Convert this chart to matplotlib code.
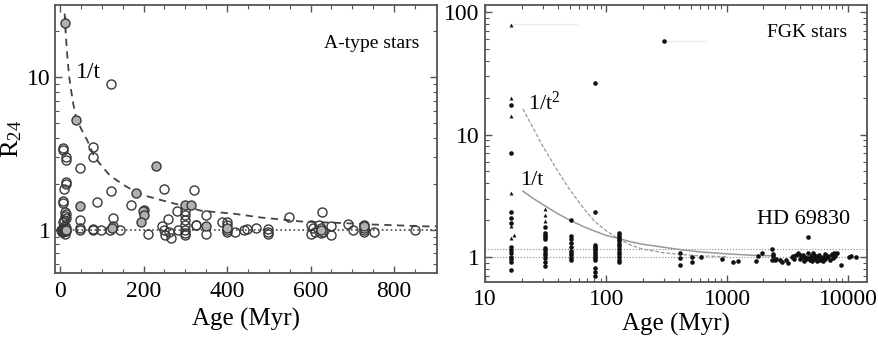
import matplotlib
matplotlib.use("Agg")
import matplotlib.pyplot as plt
from matplotlib.ticker import MultipleLocator, LogLocator, NullFormatter, FixedLocator, FixedFormatter

plt.rcParams['font.family'] = ['Liberation Serif', 'DejaVu Serif']
plt.rcParams['mathtext.fontset'] = 'custom'
plt.rcParams['mathtext.rm'] = 'Liberation Serif'
plt.rcParams['mathtext.it'] = 'Liberation Serif:italic'

# --- A-type stars: R24 excess vs age ---
a_open_age = [8, 8, 14, 14, 80, 80, 49, 14, 14, 10, 123, 123, 249, 320, 89, 169, 6, 7,
              200, 281, 350, 549, 627,
              13, 14, 12, 14, 8, 10, 5, 9, 13, 15, 7, 11, 4, 15, 12, 3, 6,
              49, 49, 49, 80, 78, 99, 119, 126, 128, 143, 211, 245, 249, 251, 262,
              265, 258, 283, 300, 300, 300, 300, 300, 300, 300, 325, 326, 350, 388,
              400, 400, 400, 400, 420, 440, 448, 470, 498, 498, 498, 600, 605, 610,
              600, 620, 625, 630, 625, 650, 650, 690, 701, 728, 728, 728, 728, 751, 851]
a_open_r24 = [3.4, 3.3, 3.0, 2.87, 3.5, 2.98, 2.53, 2.05, 1.99, 1.85, 9.0, 1.78, 1.85, 1.81,
              1.52, 1.46, 1.5, 1.55, 1.34, 1.33, 1.24, 1.21, 1.30,
              1.31, 1.27, 1.23, 1.19, 1.12, 1.15, 1.0, 1.0, 1.0, 1.03, 0.97, 0.94, 0.96,
              0.98, 1.06, 1.0, 1.02,
              1.16, 1.03, 0.99, 1.0, 1.01, 1.0, 1.0, 1.05, 1.19, 1.0, 0.94, 1.05, 0.99,
              0.92, 0.97, 0.88, 1.18, 1.0, 1.33, 1.24, 1.15, 1.07, 1.0, 0.95, 0.92, 1.08,
              1.07, 0.94, 1.13, 1.13, 1.07, 1.0, 0.97, 0.96, 1.0, 1.01, 1.03, 1.01, 0.97,
              0.94, 1.08, 1.02, 0.97, 0.93, 1.08, 1.02, 0.97, 0.95, 1.05, 0.92, 1.09, 1.0,
              1.08, 1.03, 0.99, 0.96, 0.97, 0.99]
a_fill_age = [12, 39, 231, 183, 49, 199, 201, 193, 300, 313, 350, 400, 625, 728, 125, 15]
a_fill_r24 = [22.6, 5.2, 2.62, 1.74, 1.42, 1.33, 1.24, 1.12, 1.44, 1.46, 1.05, 1.03, 1.0,
              1.05, 1.02, 1.0]

# 1/t decline traced along the A-star sample
a_curve_age = [11, 12, 15, 18, 22, 27, 32, 38.5, 50, 65, 80, 94, 120, 158, 183, 200, 254,
               300, 338, 418, 482, 538, 578, 675, 751, 880, 905]
a_curve_r24 = [26, 22.8, 17, 13, 10, 8, 6.6, 5.4, 4.6, 3.85, 3.1, 2.73, 2.25, 1.92, 1.76,
               1.68, 1.53, 1.42, 1.33, 1.27, 1.2, 1.16, 1.13, 1.105, 1.08, 1.05, 1.05]

# --- FGK stars ---
fgk_dot_age = ([16.4] * 12 + [31] * 12 + [51] * 10 + [81] * 14 + [128] * 13 + [300] +
               [405, 405, 405, 510, 510, 605, 910, 1115, 1225, 1740, 1820, 1940, 2360,
                2350, 2400, 2500, 2390, 2540, 2740, 2860, 3050, 3180, 3420, 3520, 3700,
                3880, 4010, 4140, 4270, 4410, 4500, 4650, 4700, 4850, 4910, 5100, 5170,
                5330, 5440, 5620, 5800, 5870, 6060, 6260, 6460, 6670, 6880, 7100, 7330,
                7570, 7810, 8070, 4700, 8700, 10300, 10700, 11700, 7400, 7600,
                4300, 5000, 5600, 6200, 4000, 3600, 5200, 6500])
fgk_dot_r24 = ([17.4, 7.07, 2.33, 2.08, 1.9, 1.2, 1.14, 1.07, 1.0, 0.96, 0.91, 0.78] +
               [1.75, 1.58, 1.52, 1.46, 1.40, 1.18, 1.13, 1.08, 1.04, 0.98, 0.91, 0.85] +
               [2.0, 1.48, 1.40, 1.30, 1.21, 1.12, 1.08, 1.04, 0.98, 0.95] +
               [26.4, 2.33, 1.25, 1.21, 1.18, 1.14, 1.1, 1.06, 1.02, 0.98, 0.94, 0.81,
                0.75, 0.70] +
               [1.56, 1.5, 1.46, 1.40, 1.35, 1.28, 1.22, 1.17, 1.1, 1.05, 1.0, 0.95, 0.91] +
               [58] +
               [1.08, 0.975, 0.86, 1.0, 0.915, 0.99, 0.96, 0.915, 0.93, 0.93, 1.02, 1.07,
                0.945, 1.16, 1.02, 0.945, 1.06, 0.96, 0.945, 0.915, 0.945, 0.9, 0.99, 1.02,
                1.03, 1.07, 1.04, 0.99, 1.04, 1.006, 0.958, 1.07, 0.976, 0.945, 1.02, 0.99,
                1.08, 0.958, 1.02, 0.99, 1.04, 0.945, 0.976, 1.006, 0.958, 0.99, 1.02,
                0.945, 1.06, 0.976, 1.02, 1.07, 1.45, 0.86, 0.99, 1.02, 1.0, 1.04, 1.07,
                0.93, 0.93, 0.92, 0.93, 0.97, 0.96, 1.03, 1.05])
fgk_tri_age = [16.4, 16.4, 16.4, 16.4, 16.4, 16.4, 17.2, 31, 31, 31]
fgk_tri_r24 = [78, 19.9, 14.2, 3.3, 1.79, 1.42, 1.51, 2.46, 2.2, 1.98]

# age ranges drawn as faint bars for the two high points
fgk_range_age = [(16.4, 57), (300, 680)]
fgk_range_r24 = [80, 58]

fgk_t1_age = [20.5, 25, 30, 40, 50, 65, 80, 100, 125, 160, 200, 300, 405, 600, 1000, 1700, 2500]
fgk_t1_r24 = [3.45, 3.0, 2.68, 2.25, 2.0, 1.77, 1.63, 1.5, 1.42, 1.33, 1.27, 1.2, 1.15,
              1.1, 1.06, 1.03, 1.02]
fgk_t2_age = [20.5, 25, 30, 40, 50, 65, 80, 100, 125, 160, 200, 300, 405, 600, 1000]
fgk_t2_r24 = [16.2, 11.2, 8.0, 5.0, 3.55, 2.5, 1.96, 1.64, 1.42, 1.25, 1.16, 1.08, 1.05,
              1.02, 1.005]

fgk_floor = [1.0, 1.16]

EDGE = '#555555'


def style_axes(ax, size):
    for s in ax.spines.values():
        s.set_color(EDGE)
        s.set_linewidth(1.3)
    ax.tick_params(which='both', direction='in', top=True, right=True, color=EDGE,
                   labelsize=size)
    ax.tick_params(which='major', length=5, width=1)
    ax.tick_params(which='minor', length=3, width=0.8)


fig = plt.figure(figsize=(8.79, 3.43), dpi=100)
ax1 = fig.add_axes([0.0626, 0.204, 0.4346, 0.781])
ax2 = fig.add_axes([0.552, 0.178, 0.434, 0.807])

# left: A-type stars
ax1.set_yscale('log')
ax1.plot(a_curve_age, a_curve_r24, ls=(0, (4, 3)), color='#444444', lw=1.3, zorder=2)
ax1.axhline(1.0, ls=':', color='#444444', lw=1.2, zorder=1)
ax1.errorbar([a_fill_age[0]], [a_fill_r24[0]], yerr=[[2.5], [2.5]], fmt='none',
             ecolor='#444444', elinewidth=1, zorder=3)
ax1.plot(a_open_age, a_open_r24, 'o', ms=6.5, mfc='none', mec='#383838', mew=1.0, zorder=3)
ax1.plot(a_fill_age, a_fill_r24, 'o', ms=6.5, mfc='#b0b0b0', mec='#383838', mew=1.0, zorder=4)
ax1.set_xlim(-12, 903)
ax1.set_ylim(0.52, 29.5)
ax1.xaxis.set_major_locator(MultipleLocator(200))
ax1.xaxis.set_minor_locator(MultipleLocator(50))
ax1.yaxis.set_major_locator(FixedLocator([1, 10]))
ax1.yaxis.set_major_formatter(FixedFormatter(['1', '10']))
ax1.yaxis.set_minor_locator(LogLocator(subs=(2, 3, 4, 5, 6, 7, 8, 9)))
ax1.yaxis.set_minor_formatter(NullFormatter())
style_axes(ax1, 17)
ax1.tick_params(axis='x', pad=6)
ax1.tick_params(axis='y', pad=3)
ax1.set_xlabel('Age (Myr)', fontsize=18, labelpad=4)
ax1.set_ylabel(r'$\mathrm{R}_{24}$', fontsize=19, labelpad=2)
ax1.text(0.955, 0.855, 'A-type stars', transform=ax1.transAxes, ha='right', va='center',
         fontsize=14)
ax1.text(38, 9.9, '1/t', fontsize=17, ha='left', va='baseline')

# right: FGK stars
ax2.set_xscale('log')
ax2.set_yscale('log')
for r in fgk_floor:
    ax2.axhline(r, ls=':', color='#888888', lw=0.8, zorder=1)
for (t0, t1), r in zip(fgk_range_age, fgk_range_r24):
    ax2.plot([t0, t1], [r, r], color='#eeeeee', lw=1.0, zorder=1)
ax2.plot(fgk_t1_age, fgk_t1_r24, '-', color='#999999', lw=1.1, zorder=2)
ax2.plot(fgk_t2_age, fgk_t2_r24, '--', color='#999999', lw=0.9, dashes=(3, 1.5), zorder=2)
ax2.plot(fgk_dot_age, fgk_dot_r24, 'o', ms=3.3, color='#111111', mew=0, zorder=3)
ax2.plot(fgk_tri_age, fgk_tri_r24, '^', ms=2.8, color='#111111', mew=0, zorder=3)
ax2.set_xlim(10, 14300)
ax2.set_ylim(0.625, 114)
ax2.xaxis.set_major_locator(FixedLocator([10, 100, 1000, 10000]))
ax2.xaxis.set_major_formatter(FixedFormatter(['10', '100', '1000', '10000']))
ax2.xaxis.set_minor_locator(LogLocator(subs=(2, 3, 4, 5, 6, 7, 8, 9)))
ax2.xaxis.set_minor_formatter(NullFormatter())
ax2.yaxis.set_major_locator(FixedLocator([1, 10, 100]))
ax2.yaxis.set_major_formatter(FixedFormatter(['1', '10', '100']))
ax2.yaxis.set_minor_locator(LogLocator(subs=(2, 3, 4, 5, 6, 7, 8, 9)))
ax2.yaxis.set_minor_formatter(NullFormatter())
style_axes(ax2, 17)
ax2.tick_params(axis='x', pad=5)
ax2.tick_params(axis='y', pad=4)
ax2.set_xlabel('Age (Myr)', fontsize=18, labelpad=2)
ax2.text(0.95, 0.9, 'FGK stars', transform=ax2.transAxes, ha='right', va='center',
         fontsize=14)
ax2.text(22.7, 15.8, r'1/t$^{2}$', fontsize=16, ha='left', va='baseline')
ax2.text(19.5, 3.87, '1/t', fontsize=16, ha='left', va='baseline')
ax2.text(10400, 1.86, 'HD 69830', fontsize=16, ha='right', va='baseline')

fig.savefig('out.png', dpi=100)
